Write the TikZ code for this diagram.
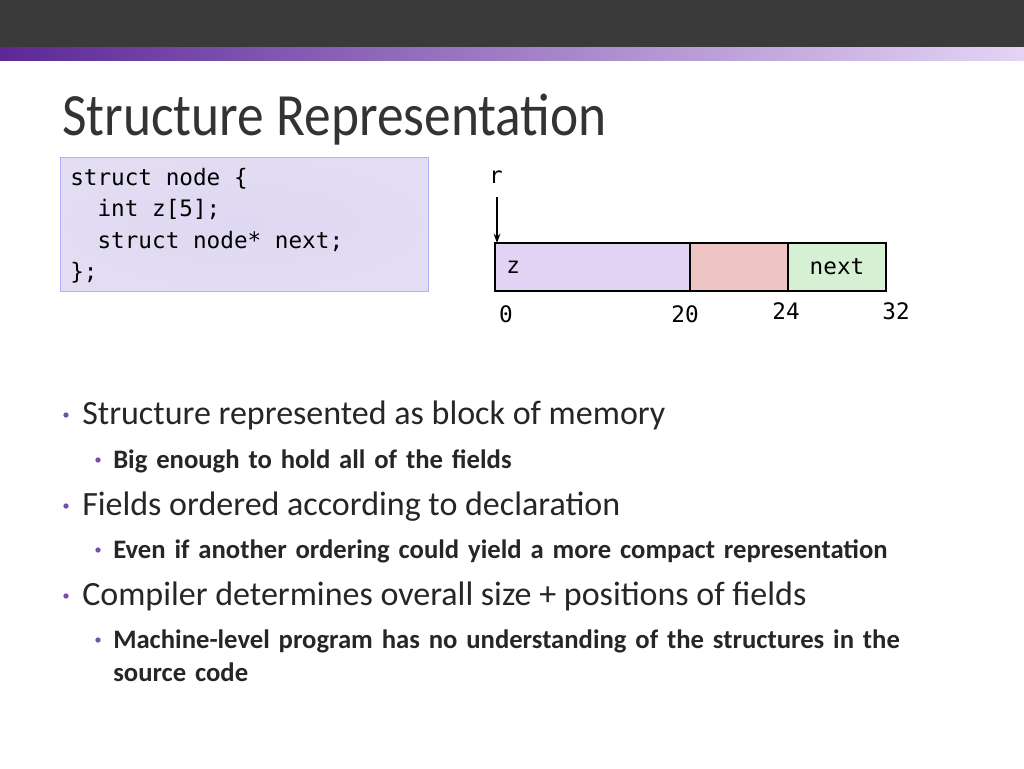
\documentclass[tikz,border=0pt]{standalone}
\usepackage{fontspec}
\setmainfont{Carlito}
\newfontfamily\codefont{DejaVu Sans Mono}
\usetikzlibrary{positioning, arrows.meta}
\definecolor{topbar}{RGB}{58,58,58}
\definecolor{barleft}{RGB}{92,40,150}
\definecolor{barright}{RGB}{228,212,245}
\definecolor{codefill}{RGB}{214,206,238}
\definecolor{zfill}{RGB}{226,210,244}
\definecolor{padfill}{RGB}{238,196,196}
\definecolor{nextfill}{RGB}{214,240,212}
\definecolor{dotcol}{RGB}{120,80,170}
\begin{document}
\begin{tikzpicture}[x=0.75pt,y=-0.75pt,
    field/.style={draw, line width=1.8pt, minimum height=36pt, inner sep=0pt, outer sep=0pt},
    offset/.style={font=\codefont\fontsize{17}{20}\selectfont},
    main/.style={anchor=base west, inner sep=0pt, font=\fontsize{25.5}{30}\selectfont, text=black!85},
    sub/.style={anchor=base west, inner sep=0pt, font=\bfseries\fontsize{20}{25}\selectfont, text=black!85, align=left, text width=610pt},
    dot/.style={fill=dotcol, circle, inner sep=0pt, minimum size=4pt}
]
    \useasboundingbox (0,0) rectangle (1024,768);
    % header bars
    \fill[topbar] (0,0) rectangle (1024,47);
    \shade[left color=barleft, right color=barright] (0,47) rectangle (1024,60);
    % title
    \node[anchor=base west, font=\fontsize{45}{50}\selectfont, text=black!80, inner sep=0pt, xscale=0.89] (title) at (62,135) {Structure Representation};
    % code box
    \shade[inner color=codefill!80, outer color=codefill!70!white, draw=codefill!60!blue!60] (60,157) rectangle (428,291);
    \node[anchor=north west, align=left, inner sep=0pt, font=\codefont\fontsize{17}{23.5}\selectfont] (code) at (70,168)
        {struct node \{\\\ \ int z[5];\\\ \ struct node* next;\\\};};
    % memory layout
    \node[field, fill=zfill, minimum width=146.25pt, anchor=north west] (z) at (495,243) {};
    \node[field, fill=padfill, minimum width=73.5pt, anchor=west] (pad) at (z.east) {};
    \node[field, fill=nextfill, minimum width=73.5pt, anchor=west] (next) at (pad.east) {};
    \node[offset, anchor=west] at ([xshift=5pt]z.west) {z};
    \node[offset] at (next.center) {next};
    \node[offset] (o0) at (506,314) {0};
    \node[offset] (o20) at (685,314) {20};
    \node[offset] (o24) at (786,311) {24};
    \node[offset] (o32) at (896,311) {32};
    \node[offset] (r) at (496,177) {r};
    \coordinate (rtop) at (497,197);
    \draw[-{Stealth[length=7pt,width=5pt]}, line width=1.3pt] (rtop) -- (rtop |- z.north);
    % bullets
    \node[dot] at (66,415) {};
    \node[main] at (82,424) {Structure represented as block of memory};
    \node[dot] at (98,460) {};
    \node[sub] at (113,468) {Big enough to hold all of the fields};
    \node[dot] at (66,506) {};
    \node[main] at (82,515) {Fields ordered according to declaration};
    \node[dot] at (98,550) {};
    \node[sub] at (113,558) {Even if another ordering could yield a more compact representation};
    \node[dot] at (66,596) {};
    \node[main] at (82,605) {Compiler determines overall size + positions of fields};
    \node[dot] at (98,640) {};
    \node[sub] at (113,648) {\raggedright Machine-level program has no understanding of the structures in the source code};
\end{tikzpicture}
\end{document}
